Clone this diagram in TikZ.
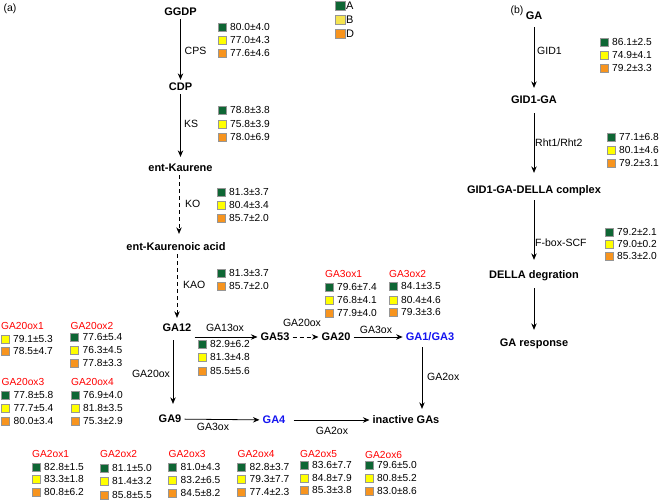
\documentclass[tikz,border=0pt]{standalone}
\usepackage{fontspec}
\setmainfont{Liberation Sans}
\usetikzlibrary{arrows.meta}
\definecolor{cgreen}{RGB}{14,102,52}
\definecolor{cyellow}{RGB}{255,255,0}
\definecolor{clyellow}{RGB}{245,228,80}
\definecolor{corange}{RGB}{247,148,30}
\definecolor{cred}{RGB}{255,0,0}
\definecolor{cblue}{RGB}{20,20,240}
\definecolor{cborder}{RGB}{150,150,150}
\newcommand{\vrow}[5]{\node[sq,fill=#4] (#1s) at (#2,#3) {};\node[val] (#1t) at (#2+8,#3) {#5};}
\newcommand{\vthree}[8]{\vrow{#1a}{#2}{#3}{cgreen}{#6}\vrow{#1b}{#2}{#4}{cyellow}{#7}\vrow{#1c}{#2}{#5}{corange}{#8}}
\begin{document}
\begin{tikzpicture}[x=1pt,y=-1pt,
  sq/.style={draw=cborder,line width=0.6pt,minimum size=8pt,inner sep=0pt,outer sep=0pt},
  lsq/.style={draw=cborder,line width=0.7pt,minimum size=9.5pt,inner sep=0pt,outer sep=0pt},
  val/.style={anchor=west,inner sep=0pt,font=\fontsize{10.2}{12}\selectfont},
  ttl/.style={anchor=west,inner sep=0pt,text=cred,font=\fontsize{10.2}{12}\selectfont},
  mol/.style={font=\bfseries\fontsize{11}{13}\selectfont,inner sep=3pt,text height=7.9pt,text depth=0pt},
  enz/.style={font=\fontsize{10.5}{12}\selectfont,inner sep=0pt,text height=7.5pt,text depth=0pt},
  arr/.style={-{Stealth[length=6.5pt,width=5.5pt]},line width=0.8pt},
  darr/.style={arr,dash pattern=on 4pt off 3pt}]
\useasboundingbox (0,0) rectangle (662,500);
% panel labels
\node[enz] (pa) at (10,8) {(a)};
\node[enz] (pb) at (517,10) {(b)};
% legend
\node[lsq,fill=cgreen] (legA) at (340.5,6) {};
\node[lsq,fill=clyellow] (legB) at (340.5,20) {};
\node[lsq,fill=corange] (legD) at (340.5,34) {};
\node[enz,anchor=west,font=\fontsize{11}{12}\selectfont] (legAt) at (346,6) {A};
\node[enz,anchor=west,font=\fontsize{11}{12}\selectfont] (legBt) at (346,20) {B};
\node[enz,anchor=west,font=\fontsize{11}{12}\selectfont] (legDt) at (346,34) {D};
% molecules (a)
\node[mol] (GGDP) at (180.5,12) {GGDP};
\node[mol] (CDP) at (180.5,87) {CDP};
\node[mol] (entK) at (180.5,168) {ent-Kaurene};
\node[mol] (entKA) at (176,247) {ent-Kaurenoic acid};
\node[mol] (GA12) at (177,328) {GA12};
\node[mol] (GA53) at (275,337) {GA53};
\node[mol] (GA20) at (336,337) {GA20};
\node[mol,text=cblue] (GA13) at (430,337) {GA1/GA3};
\node[mol] (GA9) at (170,419) {GA9};
\node[mol,text=cblue] (GA4) at (274,420) {GA4};
\node[mol] (inact) at (406,420) {inactive GAs};
\coordinate (cKO) at (179,0);
\coordinate (cA9) at (173,0);
\coordinate (cIn) at (422,0);
% arrows (a)
\draw[arr] (GGDP) -- (CDP);
\draw[arr,shorten >=4pt] (CDP) -- (entK);
\draw[darr,shorten >=6pt] (entK.south -| cKO) -- (entKA.north -| cKO);
\draw[darr,shorten >=3pt] (entKA.south -| GA12) -- (GA12);
\draw[arr,shorten <=5pt,shorten >=8pt] (GA12.south -| cA9) -- (GA9.north -| cA9);
\draw[arr] (GA12.east |- GA53) -- (GA53.west);
\draw[darr] (GA53) -- (GA20);
\draw[arr] (GA20) -- (GA13);
\draw[arr,shorten <=3pt,shorten >=4pt] (GA13.south -| cIn) -- (inact.north -| cIn);
\draw[arr] (GA9) -- (GA4);
\draw[arr,shorten <=5pt] (GA4) -- (inact);
% enzyme labels (a)
\node[enz,anchor=west] (eCPS) at (184.5,51) {CPS};
\node[enz,anchor=west] (eKS) at (184,124) {KS};
\node[enz,anchor=west] (eKO) at (185,204) {KO};
\node[enz,anchor=west] (eKAO) at (183,285) {KAO};
\node[enz] (eG20a) at (151,374) {GA20ox};
\node[enz] (eG13) at (225,328) {GA13ox};
\node[enz] (eG20b) at (302,323) {GA20ox};
\node[enz] (eG3a) at (376,330) {GA3ox};
\node[enz,anchor=west] (eG2a) at (427,377) {GA2ox};
\node[enz] (eG3b) at (213,427) {GA3ox};
\node[enz] (eG2b) at (332,431) {GA2ox};
% value blocks (a)
\vthree{vCPS}{222}{27}{40}{53}{80.0±4.0}{77.0±4.3}{77.6±4.6}
\vthree{vKS}{222}{110}{124}{137}{78.8±3.8}{75.8±3.9}{78.0±6.9}
\vthree{vKO}{221}{192}{205}{218}{81.3±3.7}{80.4±3.4}{85.7±2.0}
\vrow{vKAOa}{221}{273}{cgreen}{81.3±3.7}
\vrow{vKAOc}{221}{286}{corange}{85.7±2.0}
\vthree{vG13}{202}{344}{357}{371}{82.9±6.2}{81.3±4.8}{85.5±5.6}
\node[ttl] (tG3a) at (325,274) {GA3ox1};
\vthree{vG3a}{329}{287}{300}{313}{79.6±7.4}{76.8±4.1}{77.9±4.0}
\node[ttl] (tG3b) at (389,274) {GA3ox2};
\vthree{vG3b}{393}{286}{300}{312}{84.1±3.5}{80.4±4.6}{79.3±3.6}
\node[ttl] (tG20a) at (1,326) {GA20ox1};
\vrow{vG20ab}{5}{339}{cyellow}{79.1±5.3}
\vrow{vG20ac}{5}{351}{corange}{78.5±4.7}
\node[ttl] (tG20b) at (70.5,326) {GA20ox2};
\vthree{vG20b}{74.5}{337}{350}{363}{77.6±5.4}{76.3±4.5}{77.8±3.3}
\node[ttl] (tG20c) at (1.5,382) {GA20ox3};
\vthree{vG20c}{5.5}{395}{408}{421}{77.8±5.8}{77.7±5.4}{80.0±3.4}
\node[ttl] (tG20d) at (71,382) {GA20ox4};
\vthree{vG20d}{75}{395}{408}{421}{76.9±4.0}{81.8±3.5}{75.3±2.9}
\node[ttl] (tG2a) at (32,454) {GA2ox1};
\vthree{vG2a}{36}{467}{479}{492}{82.8±1.5}{83.3±1.8}{80.8±6.2}
\node[ttl] (tG2b) at (100,454) {GA2ox2};
\vthree{vG2b}{104}{468}{481}{495}{81.1±5.0}{81.4±3.2}{85.8±5.5}
\node[ttl] (tG2c) at (168.5,454) {GA2ox3};
\vthree{vG2c}{172.5}{467}{480}{493}{81.0±4.3}{83.2±6.5}{84.5±8.2}
\node[ttl] (tG2d) at (237.5,454) {GA2ox4};
\vthree{vG2d}{241.5}{467}{479}{492}{82.8±3.7}{79.3±7.7}{77.4±2.3}
\node[ttl] (tG2e) at (300,454) {GA2ox5};
\vthree{vG2e}{304}{465}{478}{490}{83.6±7.7}{84.8±7.9}{85.3±3.8}
\node[ttl] (tG2f) at (365,455) {GA2ox6};
\vthree{vG2f}{369}{465}{478}{491}{79.6±5.0}{80.8±5.2}{83.0±8.6}
% panel (b)
\node[mol] (bGA) at (534,16) {GA};
\node[mol] (bGID) at (534,100) {GID1-GA};
\node[mol] (bDC) at (534,190) {GID1-GA-DELLA complex};
\node[mol] (bDD) at (534,275) {DELLA degration};
\node[mol] (bResp) at (534,343) {GA response};
\draw[arr,shorten <=4pt,shorten >=5pt] (bGA) -- (bGID);
\draw[arr,shorten <=6pt,shorten >=10pt] (bGID) -- (bDC);
\draw[arr,shorten <=3pt,shorten >=8pt] (bDC) -- (bDD);
\draw[arr,shorten <=6pt,shorten >=6pt] (bDD) -- (bResp);
\node[enz,anchor=west] (eGID) at (537,51) {GID1};
\node[enz,anchor=west] (eRht) at (535,143) {Rht1/Rht2};
\node[enz,anchor=west] (eFbox) at (535,243) {F-box-SCF};
\vthree{vGID}{604}{42}{55}{68}{86.1±2.5}{74.9±4.1}{79.2±3.3}
\vthree{vRht}{611}{137}{150}{163}{77.1±6.8}{80.1±4.6}{79.2±3.1}
\vthree{vFb}{609}{232}{244}{256}{79.2±2.1}{79.0±0.2}{85.3±2.0}
\end{tikzpicture}
\end{document}
